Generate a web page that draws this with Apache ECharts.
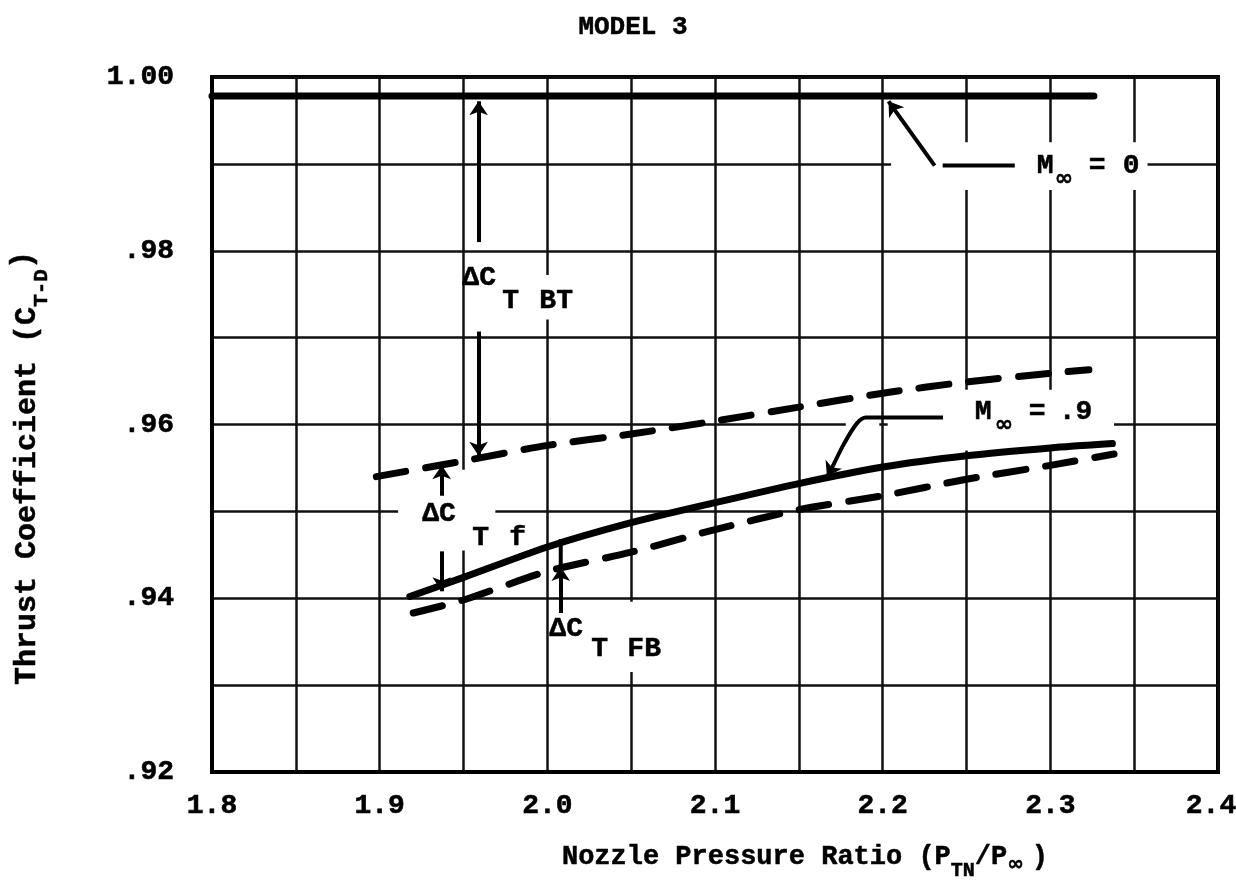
<!DOCTYPE html>
<html>
<head>
<meta charset="utf-8">
<title>MODEL 3 - Thrust Coefficient</title>
<script src="https://cdn.jsdelivr.net/npm/echarts@6/dist/echarts.min.js"></script>
<style>
  html, body { margin: 0; padding: 0; background: #fff; }
  #chart { width: 1236px; height: 887px; }
</style>
</head>
<body>
<div id="chart"></div>
<script>
// Tick labels
const xTickLabels = ['1.8', '1.9', '2.0', '2.1', '2.2', '2.3', '2.4'];
const yTickLabels = ['.92', '.94', '.96', '.98', '1.00'];

// M∞ = 0 curve
const nprM0 = [1.80, 2.326];
const ctM0 = [0.9978, 0.9978];

// M∞ = .9, upper dashed curve
const nprUpper = [1.898, 1.95, 2.00, 2.05, 2.10, 2.15, 2.20, 2.25, 2.30, 2.323];
const ctUpper  = [0.9540, 0.9558, 0.9576, 0.9589, 0.9604, 0.9620, 0.9636, 0.9649, 0.9659, 0.9663];

// M∞ = .9, solid curve
const nprSolid = [1.918, 1.95, 2.00, 2.05, 2.10, 2.15, 2.20, 2.25, 2.30, 2.337];
const ctSolid  = [0.9402, 0.9424, 0.9459, 0.9487, 0.9510, 0.9532, 0.9551, 0.9564, 0.9573, 0.9578];

// M∞ = .9, lower dashed curve
const nprLower = [1.920, 1.95, 2.00, 2.05, 2.10, 2.15, 2.20, 2.25, 2.30, 2.338];
const ctLower  = [0.9383, 0.9398, 0.9431, 0.9453, 0.9479, 0.9502, 0.9518, 0.9537, 0.9553, 0.9566];

const MONO = '"Liberation Mono", "Courier New", monospace';
const SANS = '"DejaVu Sans", sans-serif';
const INK = '#000';

const zip = (xs, ys) => xs.map((x, i) => [x, ys[i]]);

const tickFont = {
  fontFamily: MONO, fontWeight: 'bold', fontSize: 28, color: INK,
  textBorderColor: INK, textBorderWidth: 0.6
};

const curve = (name, xs, ys, dashed) => ({
  name, type: 'line', data: zip(xs, ys), symbol: 'none', smooth: 0.25,
  z: 3, silent: true,
  lineStyle: { color: INK, width: 7, cap: 'round', join: 'round', type: dashed ? [30, 20] : 'solid' }
});

const arrow = (x1, y1, x2, y2) => [{ coord: [x1, y1] }, { coord: [x2, y2] }];

const option = {
  animation: false,
  backgroundColor: '#fff',
  grid: {
    left: 212, right: 18, top: 77, bottom: 115,
    show: true, borderColor: INK, borderWidth: 4, backgroundColor: '#fff',
    outerBoundsMode: 'none'
  },
  xAxis: {
    type: 'value', min: 1.8, max: 2.4, interval: 0.05,
    axisTick: { show: false },
    axisLine: { show: true, lineStyle: { color: INK, width: 4 } },
    splitLine: { show: true, lineStyle: { color: '#111', width: 2.5 } },
    axisLabel: Object.assign({
      margin: 20, showMinLabel: true, showMaxLabel: true,
      formatter: v => {
        const k = Math.round(v * 100);
        if (k % 10 !== 0) return '';
        const i = (k - 180) / 10;
        // keep the last label inside the page edge
        return i === xTickLabels.length - 1 ? '{edge|' + xTickLabels[i] + '}' : xTickLabels[i];
      },
      rich: {
        edge: Object.assign({ padding: [0, 14, 0, 0] }, {
          fontFamily: MONO, fontWeight: 'bold', fontSize: 28, color: INK,
          textBorderColor: INK, textBorderWidth: 0.6
        })
      }
    }, tickFont)
  },
  yAxis: {
    type: 'value', min: 0.92, max: 1.00, interval: 0.01,
    axisTick: { show: false },
    axisLine: { show: true, lineStyle: { color: INK, width: 4 } },
    splitLine: { show: true, lineStyle: { color: '#111', width: 2.5 } },
    axisLabel: Object.assign({
      margin: 38, showMinLabel: true, showMaxLabel: true,
      formatter: v => {
        const k = Math.round(v * 100);
        return (k - 92) % 2 === 0 ? yTickLabels[(k - 92) / 2] : '';
      }
    }, tickFont)
  },
  series: [
    curve('M∞ = 0', nprM0, ctM0, false),
    curve('M∞ = .9 upper', nprUpper, ctUpper, true),
    curve('M∞ = .9', nprSolid, ctSolid, false),
    curve('M∞ = .9 lower', nprLower, ctLower, true),
    {
      // leader for the M∞ = 0 label
      type: 'line', data: [[2.2358, 0.9898], [2.2788, 0.9898]], symbol: 'none', z: 3, silent: true,
      lineStyle: { color: INK, width: 4 }
    },
    {
      // leader for the M∞ = .9 label
      type: 'line', data: [[2.236, 0.9608], [2.190, 0.9608], [2.1845, 0.9601], [2.177, 0.9578], [2.1705, 0.9553]],
      symbol: 'none', z: 3, silent: true, smooth: 0.3,
      lineStyle: { color: INK, width: 4 },
      markLine: {
        silent: true, symbol: ['none', 'arrow'], symbolSize: 14, z: 3,
        label: { show: false },
        lineStyle: { color: INK, width: 4, type: 'solid' },
        data: [
          arrow(2.231, 0.9898, 2.2035, 0.9972),   // M∞ = 0 pointer
          arrow(2.1705, 0.9553, 2.1668, 0.9540),  // M∞ = .9 pointer
          arrow(1.959, 0.9810, 1.959, 0.9972),    // ΔC_T BT, up
          arrow(1.959, 0.9707, 1.959, 0.9564),    // ΔC_T BT, down
          arrow(1.937, 0.9518, 1.937, 0.9553),    // ΔC_T f, up
          arrow(1.937, 0.9454, 1.937, 0.9408),    // ΔC_T f, down
          arrow(2.008, 0.9383, 2.008, 0.9436)     // ΔC_T FB
        ]
      }
    },
    {
      type: 'line', data: [[2.008, 0.9436], [2.008, 0.9468]], symbol: 'none', z: 3, silent: true,
      lineStyle: { color: INK, width: 4 }
    }
  ]
};

const chart = echarts.init(document.getElementById('chart'));
chart.setOption(option);

const px = (x, y) => chart.convertToPixel({ gridIndex: 0 }, [x, y]);
const measureCtx = document.createElement('canvas').getContext('2d');
const textWidth = (t, size, family) => {
  measureCtx.font = 'bold ' + size + 'px ' + family;
  return measureCtx.measureText(t).width;
};

function txt(t, x, y, size, family, extra) {
  return {
    type: 'text', x, y, z: 10, silent: true,
    style: Object.assign({
      text: t, fontFamily: family || MONO, fontWeight: 'bold', fontSize: size,
      fill: INK, stroke: INK, lineWidth: 0.5, align: 'left', verticalAlign: 'middle'
    }, extra || {})
  };
}

// lay out text pieces one after another along a baseline
function run(pieces, x0, y0) {
  let x = x0;
  const els = [];
  pieces.forEach(p => {
    const fam = p.f || MONO;
    els.push(txt(p.t, x, y0 + (p.dy || 0), p.s, fam));
    x += textWidth(p.t, p.s, fam) + (p.gap || 0);
  });
  return { els, width: x - x0 };
}

function whiteBox(x1, y1, x2, y2) {
  const a = px(x1, y1), b = px(x2, y2);
  return {
    type: 'rect', z: 1, silent: true,
    shape: { x: Math.min(a[0], b[0]), y: Math.min(a[1], b[1]), width: Math.abs(b[0] - a[0]), height: Math.abs(b[1] - a[1]) },
    style: { fill: '#fff' }
  };
}

// annotation label placed at a data anchor, pieces offset in pixels
function note(ax, ay, pieces) {
  const p = px(ax, ay);
  return pieces.map(q => txt(q[0], p[0] + q[1], p[1] + q[2], q[3] || 28, q[4] || MONO));
}

const els = [];

// blank the grid behind the labels
els.push(whiteBox(2.237, 0.9925, 2.358, 0.9870));
els.push(whiteBox(2.205, 0.9906, 2.237, 0.9890));
els.push(whiteBox(2.203, 0.9640, 2.338, 0.9570));
els.push(whiteBox(2.178, 0.9615, 2.198, 0.9597));
els.push(whiteBox(1.911, 0.9548, 1.969, 0.9455));
els.push(whiteBox(2.025, 0.9396, 2.070, 0.9315));
els.push(whiteBox(1.990, 0.9772, 2.030, 0.9721));

els.push(...note(2.2919, 0.9898, [['M', 0, 0], ['∞', 18, 14, 22, SANS], ['=', 52, 0], ['0', 86, 0]]));
els.push(...note(2.2549, 0.9614, [['M', 0, 0], ['∞', 20, 13, 22, SANS], ['=', 54, 0], ['.9', 84, 0]]));
els.push(...note(1.9493, 0.9769, [['ΔC', 0, 0], ['T', 40, 23], ['BT', 77, 23]]));
els.push(...note(1.9254, 0.9497, [['ΔC', 0, 0], ['T', 50, 24], ['f', 87, 24]]));
els.push(...note(2.0012, 0.9365, [['ΔC', 0, 0], ['T', 42, 20], ['FB', 78, 20]]));

// chart title
els.push(txt('MODEL 3', 633, 27, 26, MONO, { align: 'center' }));

// x-axis title
const xt = run([
  { t: 'Nozzle Pressure Ratio (P', s: 27 },
  { t: 'TN', s: 20, dy: 14 },
  { t: '/P', s: 27 },
  { t: '∞', s: 20, dy: 8, f: SANS, gap: 8 },
  { t: ')', s: 27 }
], 0, 0);
const xtLeft = 805 - xt.width / 2;
xt.els.forEach(e => { e.x += xtLeft; e.y += 857; els.push(e); });

// y-axis title, rotated to read bottom-to-top
const yt = run([
  { t: 'Thrust Coefficient (C', s: 30 },
  { t: 'T-D', s: 21, dy: 15 },
  { t: ')', s: 30, dy: -4 }
], 0, 0);
els.push({
  type: 'group', x: 27, y: 468 + yt.width / 2, rotation: Math.PI / 2,
  children: yt.els
});

chart.setOption({ graphic: { elements: els } });
</script>
</body>
</html>
